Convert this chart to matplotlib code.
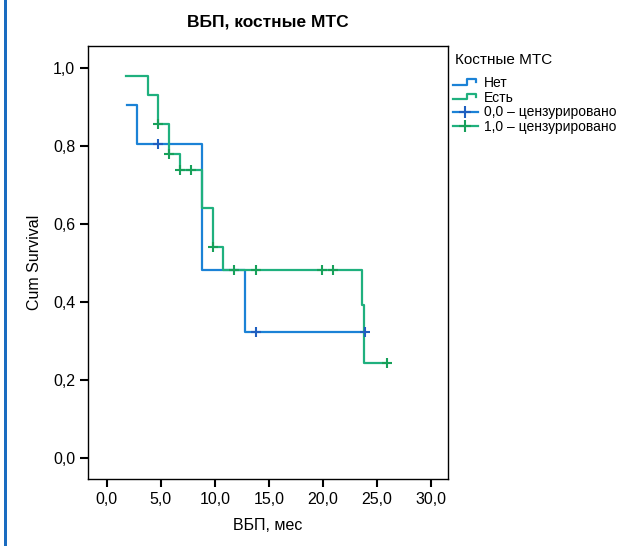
import matplotlib
matplotlib.use('Agg')
import matplotlib.pyplot as plt
from matplotlib.legend_handler import HandlerBase
from matplotlib.lines import Line2D
from matplotlib.patches import Rectangle

plt.rcParams['font.family'] = ['Liberation Sans', 'DejaVu Sans']

# Нет (0,0): step times and survival
net_t = [1.85, 2.8, 8.8, 12.8, 23.9]
net_s = [0.905, 0.805, 0.481, 0.322, 0.322]
net_cens_t = [4.7, 13.8, 23.9]
net_cens_s = [0.805, 0.322, 0.322]

# Есть (1,0)
est_t = [1.8, 3.85, 4.75, 5.75, 6.75, 8.8, 9.8, 10.8, 23.6, 23.8, 25.9]
est_s = [0.981, 0.931, 0.857, 0.780, 0.738, 0.640, 0.542, 0.481, 0.392, 0.242, 0.242]
est_cens_t = [4.75, 5.75, 6.75, 7.8, 9.8, 11.8, 13.8, 19.9, 20.9, 25.9]
est_cens_s = [0.857, 0.780, 0.738, 0.738, 0.542, 0.481, 0.481, 0.481, 0.481, 0.242]

x_ticks = [0, 5, 10, 15, 20, 25, 30]
y_ticks = [0.0, 0.2, 0.4, 0.6, 0.8, 1.0]

blue = '#1b82d6'
green = '#1fb07e'


class StepHandler(HandlerBase):
    def create_artists(self, legend, orig_handle, xdescent, ydescent,
                       width, height, fontsize, trans):
        x0 = -xdescent
        y0 = -ydescent
        xs = [x0, x0 + width*0.55, x0 + width*0.55, x0 + width*0.92, x0 + width*0.92]
        ys = [y0 + height*0.25, y0 + height*0.25, y0 + height*0.8, y0 + height*0.8, y0 + height*0.5]
        ln = Line2D(xs, ys, color=orig_handle.get_color(), lw=orig_handle.get_linewidth(),
                    transform=trans)
        return [ln]


fig = plt.figure(figsize=(6.33, 5.46), dpi=100)
ax = fig.add_axes([0.1386, 0.1227, 0.5696, 0.7931])

l_net, = ax.step(net_t, net_s, where='post', color=blue, lw=1.6)
l_est, = ax.step(est_t, est_s, where='post', color=green, lw=1.6)
c_net, = ax.plot(net_cens_t, net_cens_s, '+', color='#1f5fc0', ms=7, mew=1.5)
c_est, = ax.plot(est_cens_t, est_cens_s, '+', color='#17a05a', ms=7, mew=1.5)

ax.set_xlim(-1.76, 31.6)
ax.set_ylim(-0.055, 1.057)
ax.set_xticks(x_ticks)
ax.set_xticklabels(['{:.1f}'.format(v).replace('.', ',') for v in x_ticks])
ax.set_yticks(y_ticks)
ax.set_yticklabels(['{:.1f}'.format(v).replace('.', ',') for v in y_ticks])
ax.tick_params(direction='out', length=6, width=1.5, labelsize=11.5, pad=3)
for sp in ax.spines.values():
    sp.set_linewidth(1.0)

ax.set_title('ВБП, костные МТС', fontsize=12.5, fontweight='bold', pad=14)
ax.set_xlabel('ВБП, мес', fontsize=11.5, labelpad=8)
ax.set_ylabel('Cum Survival', fontsize=11.5, labelpad=8)

fig.text(455/633, 1 - 60/546, 'Костные МТС', fontsize=11, ha='left', va='center')

h_c_net = Line2D([], [], color=blue, lw=1.6, marker='+', ms=8, mew=1.5, mec='#1f5fc0')
h_c_est = Line2D([], [], color=green, lw=1.6, marker='+', ms=8, mew=1.5, mec='#17a05a')
leg = fig.legend([l_net, l_est, h_c_net, h_c_est],
                 ['Нет', 'Есть', '0,0 – цензурировано', '1,0 – цензурировано'],
                 handler_map={l_net: StepHandler(), l_est: StepHandler()},
                 loc='upper left',
                 bbox_to_anchor=(453/633, 1 - 76/546), frameon=False,
                 fontsize=10,
                 handlelength=1.8, handletextpad=0.4, labelspacing=0.05,
                 borderaxespad=0.0, borderpad=0.0)

fig.add_artist(Rectangle((4/633, 0), 3/633, 1, transform=fig.transFigure,
                         color='#1a6cc0', lw=0))

fig.savefig('out.png', dpi=100)
